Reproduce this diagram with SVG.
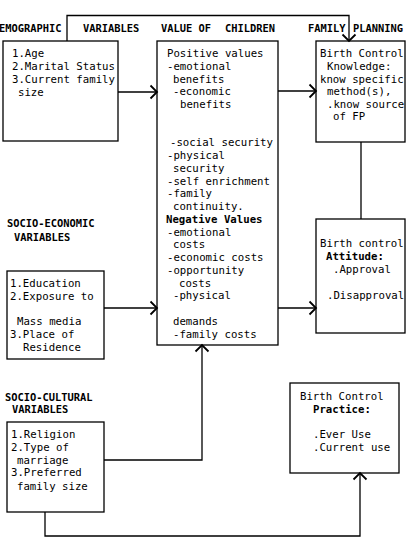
<svg xmlns="http://www.w3.org/2000/svg" width="408" height="548" viewBox="0 0 408 548">
<defs>
<marker id="arr" markerUnits="userSpaceOnUse" markerWidth="12" markerHeight="16" refX="0" refY="0" orient="auto" overflow="visible">
<path d="M-6.5,-6.5 L0,0 L-6.5,6.5" fill="none" stroke="#000" stroke-width="1.8"/>
</marker>
<style>
.box{fill:#fff;stroke:#000;stroke-width:1.3}
.t{font-family:"DejaVu Sans Mono","Liberation Mono",monospace;font-size:10.7px;fill:#000}
.b{font-weight:bold}
.h{font-family:"DejaVu Sans Mono","Liberation Mono",monospace;font-size:10.4px;font-weight:bold;fill:#000}
.c{fill:none;stroke:#000;stroke-width:1.3}
</style>
</defs>
<rect width="408" height="548" fill="#fff"/>
<g id="header">
<text class="h" x="-1" y="32">EMOGRAPHIC</text>
<text class="h" x="83" y="32">VARIABLES</text>
<text class="h" x="161" y="32">VALUE OF</text>
<text class="h" x="225" y="32">CHILDREN</text>
<text class="h" x="308" y="32">FAMILY</text>
<text class="h" x="353" y="32">PLANNING</text>
</g>
<g id="demographic">
<rect class="box" x="3" y="41" width="115" height="100"/>
<text class="t" x="12" y="57">1.Age</text>
<text class="t" x="12" y="70">2.Marital Status</text>
<text class="t" x="12" y="83">3.Current family</text>
<text class="t" x="18" y="96">size</text>
</g>
<g id="value-of-children">
<rect class="box" x="157" y="41" width="121" height="304"/>
<text class="t" x="167" y="57">Positive values</text>
<text class="t" x="167" y="69.75">-emotional</text>
<text class="t" x="173" y="82.5">benefits</text>
<text class="t" x="173" y="95.25">-economic</text>
<text class="t" x="180" y="108">benefits</text>
<text class="t" x="170" y="146.25">-social security</text>
<text class="t" x="167" y="159">-physical</text>
<text class="t" x="173" y="171.75">security</text>
<text class="t" x="167" y="184.5">-self enrichment</text>
<text class="t" x="167" y="197.25">-family</text>
<text class="t" x="173" y="210">continuity.</text>
<text class="t b" x="166" y="222.75">Negative Values</text>
<text class="t" x="167" y="235.5">-emotional</text>
<text class="t" x="173" y="248.25">costs</text>
<text class="t" x="167" y="261">-economic costs</text>
<text class="t" x="167" y="273.75">-opportunity</text>
<text class="t" x="179" y="286.5">costs</text>
<text class="t" x="173" y="299.25">-physical</text>
<text class="t" x="173" y="324.75">demands</text>
<text class="t" x="173" y="337.5">-family costs</text>
</g>
<g id="knowledge">
<rect class="box" x="316" y="41" width="89" height="101"/>
<text class="t" x="320" y="57">Birth Control</text>
<text class="t" x="327" y="70">Knowledge:</text>
<text class="t" x="320" y="83">know specific</text>
<text class="t" x="327" y="95">method(s),</text>
<text class="t" x="327" y="108">.know source</text>
<text class="t" x="333" y="120">of FP</text>
</g>
<g id="attitude">
<rect class="box" x="316" y="219" width="89" height="114"/>
<text class="t" x="320" y="247">Birth control</text>
<text class="t b" x="326" y="260">Attitude:</text>
<text class="t" x="333" y="273">.Approval</text>
<text class="t" x="327" y="299">.Disapproval</text>
</g>
<g id="socio-economic">
<text class="h" x="7" y="227">SOCIO-ECONOMIC</text>
<text class="h" x="14" y="241">VARIABLES</text>
<rect class="box" x="7" y="271" width="97" height="88"/>
<text class="t" x="10" y="287">1.Education</text>
<text class="t" x="10" y="300">2.Exposure to</text>
<text class="t" x="17" y="325">Mass media</text>
<text class="t" x="10" y="338">3.Place of</text>
<text class="t" x="23" y="351">Residence</text>
</g>
<g id="socio-cultural">
<text class="h" x="5" y="401">SOCIO-CULTURAL</text>
<text class="h" x="12" y="413">VARIABLES</text>
<rect class="box" x="7" y="422" width="97" height="90"/>
<text class="t" x="11" y="438">1.Religion</text>
<text class="t" x="11" y="451">2.Type of</text>
<text class="t" x="17" y="464">marriage</text>
<text class="t" x="11" y="476">3.Preferred</text>
<text class="t" x="17" y="490">family size</text>
</g>
<g id="practice">
<rect class="box" x="290" y="383" width="109" height="90"/>
<text class="t" x="300" y="400">Birth Control</text>
<text class="t b" x="313" y="413">Practice:</text>
<text class="t" x="313" y="438">.Ever Use</text>
<text class="t" x="313" y="451">.Current use</text>
</g>
<g id="connectors">
<path class="c" d="M67,41 V15.5 H349 V41" marker-end="url(#arr)"/>
<path class="c" d="M118,92 H157" marker-end="url(#arr)"/>
<path class="c" d="M278,91 H316" marker-end="url(#arr)"/>
<path class="c" d="M361,142 V219"/>
<path class="c" d="M104,308 H157" marker-end="url(#arr)"/>
<path class="c" d="M278,308 H316" marker-end="url(#arr)"/>
<path class="c" d="M104,460 H202 V345" marker-end="url(#arr)"/>
<path class="c" d="M45,512 V536 H360 V473" marker-end="url(#arr)"/>
</g>
</svg>
